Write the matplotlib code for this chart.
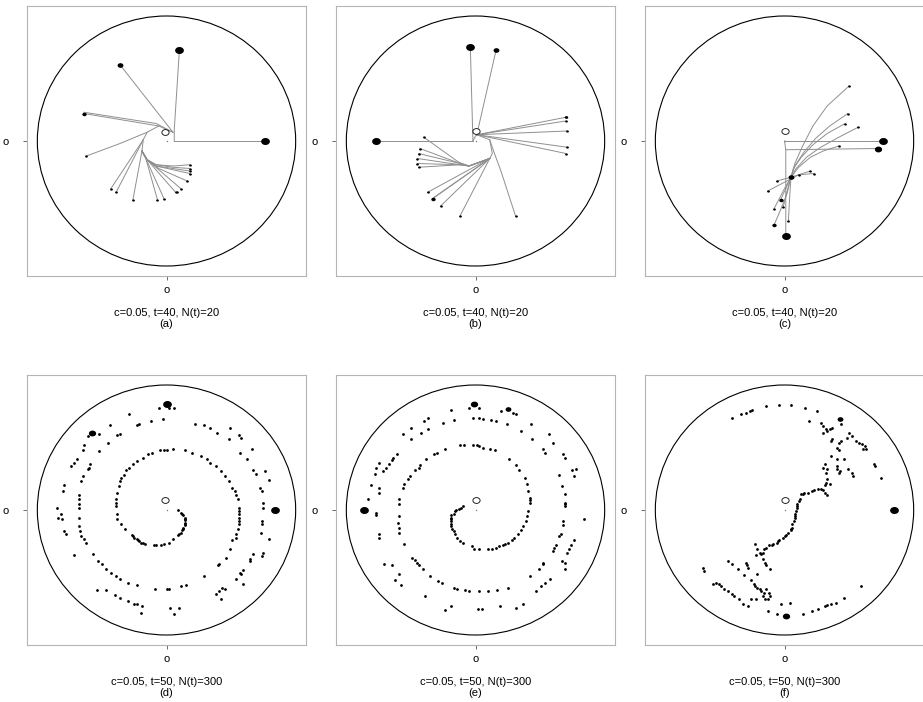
import numpy as np
import matplotlib.pyplot as plt
from matplotlib.patches import Circle
from matplotlib.path import Path

plt.rcParams['font.family'] = ['Liberation Sans', 'DejaVu Sans']

R = 100  # radius of the disc, data units

captions = ['c=0.05, t=40, N(t)=20'] * 3 + ['c=0.05, t=50, N(t)=300'] * 3
tags = ['(a)', '(b)', '(c)', '(d)', '(e)', '(f)']

# ---- top row: genealogy branches (polylines) and particles (x, y, weight)
branches_a = [
    [(6, 0), (76, 0)],
    [(6, 0), (6, 9), (10, 73)],
    [(5, 7), (-36, 61)],
    [(5, 7), (-6, 12), (-64, 22)],
    [(5, 7), (-8, 14), (-64, 23)],
    [(-6, 12), (-15, 7), (-36, -2), (-62, -12)],
    [(-15, 7), (-18, 1), (-43, -38)],
    [(-18, 1), (-39, -41)],
    [(-18, 1), (-19, -8), (-26, -47)],
    [(-19, -8), (-16, -14), (-7, -47)],
    [(-19, -8), (-16, -14), (-2, -46)],
    [(-19, -8), (-15, -15), (7, -41)],
    [(-19, -8), (-15, -15), (11, -38)],
    [(-19, -8), (-15, -15), (-6, -22), (16, -32)],
    [(-19, -8), (-15, -15), (-8, -20), (5, -23), (18, -26)],
    [(-19, -8), (-15, -15), (-8, -20), (5, -22), (18, -24)],
    [(-19, -8), (-15, -15), (-8, -19), (5, -21), (18, -22)],
    [(-19, -8), (-15, -15), (-8, -19), (5, -20), (18, -19)],
]
particles_a = [(76, 0, 3), (10, 73, 3), (-36, 61, 2), (-64, 22, 1.5), (-62, -12, 1),
               (-43, -38, 1), (-39, -41, 1), (-26, -47, 1), (-7, -47, 1), (-2, -46, 1),
               (7, -41, 1), (8, -41, 1), (11, -38, 1), (16, -32, 1), (18, -26, 1),
               (18, -24, 1), (18, -22, 1), (18, -19, 1)]

branches_b = [
    [(-2, 0), (-77, 0)],
    [(-2, 0), (-4, 75)],
    [(-2, 0), (0, 4), (1, 5)],
    [(1, 5), (16, 73)],
    [(1, 5), (70, 19)], [(1, 5), (70, 16)], [(1, 5), (71, 8)],
    [(1, 5), (71, -5)], [(1, 5), (70, -10)],
    [(1, 5), (11, 1), (13, -10), (11, -14)],
    [(11, -14), (-5, -20), (-13, -17), (-40, 3)],
    [(11, -14), (-5, -20), (-12, -18), (-43, -6)],
    [(11, -14), (-5, -20), (-12, -18), (-44, -10)],
    [(11, -14), (-5, -20), (-12, -19), (-45, -14)],
    [(11, -14), (-5, -20), (-12, -19), (-45, -18)],
    [(11, -14), (-5, -20), (-12, -19), (-44, -21)],
    [(11, -14), (-37, -41)],
    [(11, -14), (-33, -46)],
    [(11, -14), (-32, -45), (-33, -46)],
    [(11, -14), (-27, -52)],
    [(11, -14), (-12, -60)],
    [(11, 1), (14, -8), (20, -25), (31, -60)],
]
particles_b = [(-77, 0, 3), (-4, 75, 3), (16, 73, 2), (70, 19, 1.2), (70, 16, 1),
               (71, 8, 1), (71, -5, 1), (70, -10, 1), (-40, 3, 1), (-43, -6, 1),
               (-44, -10, 1), (-45, -14, 1), (-45, -18, 1), (-44, -21, 1),
               (-37, -41, 1), (-33, -46, 1.5), (-27, -52, 1), (-12, -60, 1), (31, -60, 1)]

branches_c = [
    [(0, 0), (76, 0)],
    [(0, 0), (1, -7), (1, -76)],
    [(1, -7), (72, -6)],
    [(50, 44), (33, 28), (22, 12), (14, -4), (8, -18), (5, -29)],
    [(49, 22), (35, 12), (24, 2), (15, -9), (8, -20), (5, -29)],
    [(47, 14), (33, 6), (22, -3), (13, -13), (7, -22), (5, -29)],
    [(57, 11), (42, 3), (28, -5), (17, -13), (9, -22), (5, -29)],
    [(42, -4), (30, -8), (20, -13), (11, -21), (5, -29)],
    [(5, -29), (2, -42), (-3, -55), (-8, -67)],
    [(5, -29), (0, -38), (-4, -46), (-8, -54)],
    [(5, -29), (1, -38), (-3, -47)],
    [(5, -29), (2, -40), (-1, -53)],
    [(5, -29), (4, -45), (3, -64)],
    [(11, -27), (-13, -40)],
    [(5, -29), (-6, -32)],
    [(5, -29), (11, -27)],
    [(11, -27), (20, -24)],
    [(11, -27), (23, -26)],
]
particles_c = [(76, 0, 3), (72, -6, 2.5), (1, -76, 3), (5, -29, 2), (50, 44, 1),
               (49, 22, 1), (47, 14, 1), (57, 11, 1), (42, -4, 1), (-8, -67, 1.5),
               (-8, -54, 1), (-3, -47, 1.5), (-1, -53, 1), (3, -64, 1), (-13, -40, 1),
               (-6, -32, 1), (11, -27, 1), (20, -24, 1), (23, -26, 1)]

# ---- bottom row: particle clouds
points_d = [
    (2, 82), (6, 82), (-6, 82), (-3, 73), (-12, 71), (-21, 69), (-23, 68), (-29, 77),
    (-44, 68), (-36, 61), (-38, 60), (-52, 61), (-61, 59), (-45, 54), (-52, 47),
    (22, 69), (29, 68), (34, 66), (39, 62), (49, 66), (56, 60), (58, 58), (48, 57),
    (57, 46), (62, 41), (66, 49),
    (-64, 52), (-65, 48), (-69, 41), (-72, 38), (-74, 35), (-60, 34), (-79, 20),
    (-80, 15), (-85, 2), (-84, -6), (-82, -3), (-81, -7), (-79, -17), (-78, -19), (-72, -36),
    (-59, 37), (-61, 33), (-65, 27), (-66, 23), (-68, 12), (-68, 9), (-68, 5), (-68, 2),
    (-68, -6), (-68, -13), (-67, -17), (-66, -21), (-64, -23), (-62, -26), (-57, -35),
    (-53, -41), (-50, -43), (-47, -47), (-43, -50), (-39, -53), (-36, -55), (-30, -58),
    (-23, -60), (-9, -63), (0, -63), (2, -63), (11, -61), (15, -60), (29, -53), (40, -44),
    (41, -43), (46, -38), (49, -31),
    (9, 0), (11, -2), (12, -3), (13, -4), (14, -6), (14, -7), (14, -8), (14, -10),
    (14, -11), (14, -12), (13, -14), (13, -15), (12, -16), (11, -18), (10, -19), (9, -20),
    (5, -23), (2, -26), (-2, -27), (-4, -28), (-8, -28), (-10, -28),
    (-27, -20), (-26, -21), (-25, -22), (-23, -23), (-22, -24), (-21, -25), (-20, -26),
    (-18, -26), (-17, -27),
    (-32, -15), (-35, -11), (-38, -7), (-38, -3), (-39, 3), (-39, 6), (-39, 9), (-38, 14),
    (-37, 19), (-36, 23), (-35, 26), (-33, 28), (-31, 32), (-29, 34), (-26, 37), (-23, 39),
    (-18, 42), (-14, 45), (-11, 46), (-5, 48), (-2, 48), (0, 48), (5, 49), (14, 48),
    (20, 46), (27, 43), (31, 41), (34, 38), (38, 35), (42, 31), (45, 27), (48, 23),
    (51, 18), (53, 15), (54, 12), (55, 9), (56, 2), (56, -1), (56, -3), (56, -6), (56, -9),
    (56, -11), (55, -15), (54, -19), (54, -22), (51, -24),
    (67, 32), (69, 29), (72, 18), (74, 15), (75, 6), (75, 2), (74, -9), (74, -11),
    (73, -18), (75, -34), (74, -37), (67, -35), (65, -39), (65, -41), (59, -48), (57, -50),
    (54, -55), (59, -59), (76, 31), (79, 24), (79, -23), (58, -51),
    (43, -62), (45, -63), (41, -65), (38, -67), (42, -71), (-54, -64), (-47, -64),
    (-40, -68), (-36, -70), (-30, -73), (-25, -75), (-23, -75), (-19, -77), (-20, -82),
    (3, -78), (10, -78), (6, -83),
]
particles_d = [(0, 85, 3), (-58, 62, 2.5), (84, 0, 3)]

points_e = [
    (-10, 3), (-11, 2), (-13, 1), (-15, 0), (-16, -1), (-17, -3), (-19, -4), (-19, -6),
    (-19, -7), (-19, -9), (-19, -11), (-19, -13), (-18, -15), (-17, -17), (-16, -19),
    (-14, -22), (-12, -25), (-10, -26),
    (-3, -29), (-1, -31), (3, -31), (10, -31), (13, -31), (16, -30), (18, -29), (21, -28),
    (23, -27), (25, -26), (28, -24), (30, -22), (33, -19), (35, -16), (37, -13), (39, -9),
    (40, -5), (41, -1), (42, 6), (42, 8), (42, 10), (41, 15), (40, 21), (38, 26), (34, 32),
    (31, 36), (26, 41), (15, 48), (11, 49), (6, 50), (3, 51), (1, 52), (-2, 52), (-9, 52),
    (-12, 52), (-24, 49), (-30, 46), (-32, 45), (-38, 41), (-43, 36), (-44, 34), (-47, 32),
    (-51, 27), (-52, 25), (-55, 21), (-56, 18), (-59, 9), (-59, 5), (-59, -5), (-60, -10),
    (-59, -14), (-59, -18), (-55, -27), (-49, -38), (-47, -40), (-45, -42), (-44, -44),
    (-41, -47), (-35, -53), (-29, -57), (-26, -58), (-17, -62), (-14, -63), (-8, -64),
    (-5, -65), (3, -65), (10, -65), (17, -64), (25, -62), (42, -53), (49, -47), (52, -43),
    (52, -42), (60, -33), (61, -30), (62, -28), (65, -21), (66, -19), (68, -12), (68, -9),
    (69, 3), (69, 5), (69, 6), (69, 13), (67, 19), (65, 28),
    (54, 46), (52, 49), (68, 45), (69, 42), (75, 32), (78, 33), (76, 27), (60, 54),
    (57, 61), (44, 57), (43, 69), (35, 63), (24, 69), (29, 78), (31, 77), (20, 79),
    (16, 71), (12, 72), (6, 73), (3, 74), (-2, 74), (-5, 82), (3, 82), (-19, 80),
    (-17, 72), (-25, 70), (-37, 74), (-40, 71), (-37, 65), (-42, 62), (-50, 66), (-56, 61),
    (-50, 57), (-61, 45), (-64, 42), (-65, 40), (-67, 37), (-69, 34), (-72, 31), (-75, 38),
    (-77, 34), (-78, 29), (-81, 20), (-75, 18), (-75, 14), (-83, 9), (-77, -2), (-77, -4),
    (-75, -19), (-75, -22), (-71, -43), (-65, -44), (-59, -51), (-62, -56), (-58, -60),
    (-39, -69), (-24, -80), (-19, -77), (2, -79), (5, -79), (19, -77), (31, -78), (37, -75),
    (47, -65), (51, -61), (54, -58), (58, -55), (67, -41), (69, -42), (69, -47), (71, -34),
    (72, -31), (74, -28), (76, -24), (84, -7),
]
particles_e = [(-1, 85, 2.5), (-86, 0, 3), (25, 81, 2)]

points_f = [
    (-41, 74), (-34, 77), (-30, 78), (-27, 79), (-25, 80), (-14, 83), (-4, 84), (5, 84),
    (16, 82), (25, 79), (44, 69), (19, 71), (28, 70), (30, 67), (32, 65), (35, 65), (37, 66),
    (33, 63), (30, 62), (37, 57), (36, 55), (42, 54), (44, 55), (41, 50), (42, 48), (48, 58),
    (52, 59), (50, 62), (55, 55), (58, 54), (60, 53), (62, 51), (61, 49), (63, 49), (36, 43),
    (41, 41), (46, 41), (31, 37), (30, 34), (33, 33), (32, 30), (41, 35), (41, 33), (42, 30),
    (43, 31), (49, 33), (52, 30), (53, 27), (33, 25), (32, 22), (35, 21), (31, 20), (69, 37),
    (70, 35), (75, 26),
    (13, 13), (14, 13), (15, 14), (18, 14), (21, 15), (23, 16), (26, 17), (28, 17), (30, 16),
    (31, 14), (33, 12), (12, 9), (11, 7), (10, 5), (10, 3), (10, 2), (9, -1), (8, -3),
    (8, -5), (8, -6), (7, -9), (6, -11), (6, -14), (5, -15), (5, -16), (3, -18), (1, -20),
    (0, -21), (-1, -22), (-4, -24), (-5, -25), (-6, -26), (-9, -27), (-10, -28), (-12, -28),
    (-14, -30), (-16, -31),
    (-23, -27), (-21, -31), (-19, -34), (-18, -35), (-17, -34), (-22, -36), (-17, -39),
    (-15, -42), (-14, -44), (-11, -47), (-44, -41), (-41, -43), (-36, -47), (-30, -42),
    (-29, -44), (-28, -46), (-21, -51), (-31, -52), (-26, -56), (-24, -59), (-63, -46),
    (-62, -49), (-55, -59), (-53, -58), (-51, -59), (-49, -61), (-47, -63), (-44, -65),
    (-41, -67), (-39, -69), (-35, -71), (-23, -61), (-21, -62), (-19, -63), (-18, -65),
    (-16, -66), (-14, -63), (-12, -66), (-17, -69), (-15, -71), (-13, -71), (-11, -69),
    (-26, -71), (-22, -71), (-32, -75), (-28, -77), (-13, -81), (-6, -83), (-3, -75),
    (4, -74), (14, -83), (21, -81), (26, -79), (31, -77), (33, -76), (36, -75), (40, -74),
    (46, -70), (59, -61),
]
particles_f = [(85, 0, 3), (1, -85, 2.5), (43, 73, 2)]

trees = [(branches_a, particles_a), (branches_b, particles_b), (branches_c, particles_c)]
clouds = [(points_d, particles_d), (points_e, particles_e), (points_f, particles_f)]
open_marks = [(-1, 7), (0, 8), (0, 8), (-1, 8), (0, 8), (0, 8)]

# slightly wide dot, as in the original rendering
t = np.linspace(0, 2 * np.pi, 40)
blob = Path(np.column_stack([1.25 * np.cos(t), np.sin(t)]), closed=True)


def setup_disc(ax):
    ax.add_patch(Circle((0, 0), R, fill=False, edgecolor='black', lw=0.8, zorder=1))
    ax.set_xlim(-108, 108)
    ax.set_ylim(-108, 108)
    for s in ax.spines.values():
        s.set_color('#b4b4b4')
        s.set_linewidth(0.8)
    ax.set_xticks([0])
    ax.set_xticklabels(['o'])
    ax.set_yticks([0])
    ax.set_yticklabels(['o'])
    ax.tick_params(length=3, width=0.6, color='#555555', labelsize=8)
    ax.tick_params(axis='x', pad=3.5)
    ax.tick_params(axis='y', pad=10)


W, H = 923, 702
lefts = [27, 336, 645]
tops = [6, 375]
fig = plt.figure(figsize=(W / 100, H / 100), dpi=100)

for i in range(6):
    row, col = divmod(i, 3)
    ax = fig.add_axes([lefts[col] / W, (H - tops[row] - 270) / H, 279 / W, 270 / H])
    setup_disc(ax)

    if row == 0:
        branches, parts = trees[col]
        for br in branches:
            xs, ys = zip(*br)
            ax.plot(xs, ys, color='#8f8f8f', lw=0.7, zorder=2)
    else:
        pts, parts = clouds[col]
        px, py = zip(*pts)
        ax.plot(px, py, 'o', ms=2.0, mew=0, color='black', zorder=3)

    for x, y, w in parts:
        size = 2.1 * w if w > 1 else 2.0
        ax.plot(x, y, marker=blob, ms=size, mew=0, color='black', zorder=4)

    ox, oy = open_marks[i]
    ax.plot(ox, oy, marker=blob, ms=5.2, mfc='white', mec='black', mew=0.6, zorder=5)
    ax.plot(0, 0, 'o', ms=1.0, mew=0, color='#777777', zorder=5)

    cx = (lefts[col] + 139.5) / W
    base = tops[row] + 270
    fig.text(cx, 1 - (base + 37) / H, captions[i], ha='center', va='center', fontsize=8)
    fig.text(cx, 1 - (base + 48) / H, tags[i], ha='center', va='center', fontsize=8)

fig.savefig('out.png', dpi=100)
